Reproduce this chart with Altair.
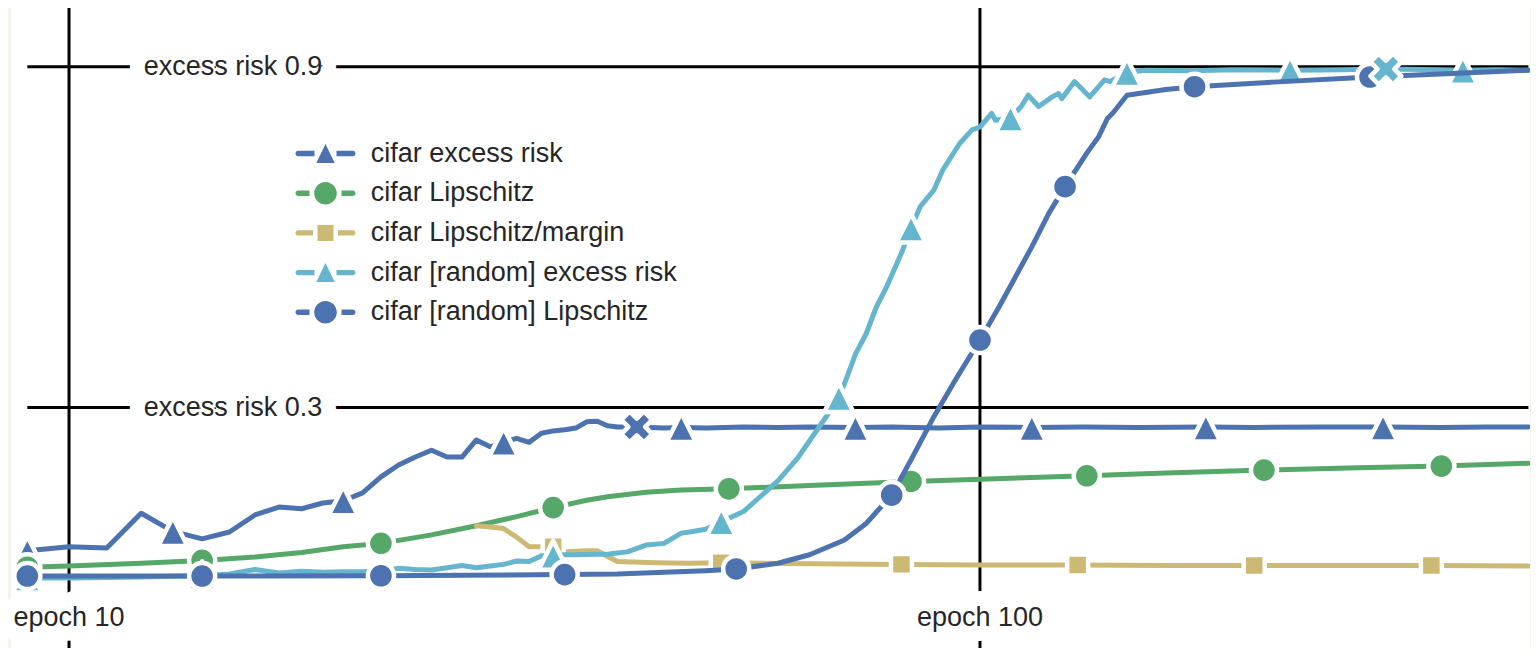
import altair as alt
import pandas as pd

# ---------------- data ----------------
SERIES = ["cifar excess risk", "cifar Lipschitz", "cifar Lipschitz/margin",
          "cifar [random] excess risk", "cifar [random] Lipschitz"]
COLORS = ["#4C72B0", "#55A868", "#CCB974", "#64B5CD", "#4C72B0"]

EXCESS_EPOCH = [9, 10, 11, 12, 13, 14, 15, 16, 17, 18, 19, 20, 21, 22, 23, 24, 25, 26, 27, 28,
                29, 30, 31, 32, 33, 34, 35, 36, 37, 38, 39, 40, 41, 42, 45, 47, 50, 55, 60, 65,
                73, 80, 90, 100, 114, 130, 150, 177, 200, 240, 277, 320, 360, 400]
EXCESS_VALUE = [0.048, 0.055, 0.053, 0.114, 0.082, 0.069, 0.081, 0.111, 0.125, 0.122, 0.132,
                0.136, 0.150, 0.178, 0.199, 0.213, 0.225, 0.213, 0.213, 0.243, 0.231, 0.239,
                0.246, 0.239, 0.255, 0.259, 0.261, 0.264, 0.275, 0.276, 0.268, 0.266, 0.266,
                0.266, 0.264, 0.265, 0.264, 0.266, 0.265, 0.266, 0.265, 0.266, 0.264, 0.266,
                0.265, 0.266, 0.265, 0.266, 0.265, 0.266, 0.266, 0.265, 0.266, 0.266]
EXCESS_MARKS = [9, 13, 20, 30, 47, 73, 114, 177, 277]

LIP_EPOCH = [9, 10, 12, 14, 16, 18, 20, 22, 25, 28, 31, 34, 37, 39, 43, 47, 53, 65, 84, 100,
             131, 160, 205, 260, 321, 400]
LIP_VALUE = [0.019, 0.021, 0.026, 0.031, 0.037, 0.045, 0.055, 0.061, 0.076, 0.092, 0.108,
             0.124, 0.137, 0.143, 0.151, 0.155, 0.157, 0.163, 0.170, 0.174, 0.180, 0.185,
             0.190, 0.194, 0.197, 0.202]
LIP_MARKS = [9, 14, 22, 34, 53, 84, 131, 205, 321]

LM_EPOCH = [28, 29, 30, 31, 32, 33, 34, 35, 36, 37, 38, 39, 40, 44, 48, 52, 65, 82, 100, 128,
            160, 200, 260, 313, 400]
LM_VALUE = [0.092, 0.090, 0.087, 0.072, 0.055, 0.055, 0.055, 0.046, 0.047, 0.048, 0.048,
            0.038, 0.029, 0.027, 0.026, 0.027, 0.025, 0.024, 0.023, 0.023, 0.022, 0.022,
            0.022, 0.022, 0.021]
LM_MARKS = [34, 52, 82, 128, 200, 313]

RER_EPOCH = [9, 10, 11, 12, 13, 14, 15, 16, 17, 18, 19, 20, 21, 22, 23, 24, 25, 26, 27, 28,
             29, 30, 31, 32, 33, 34, 35, 36, 38, 39, 40, 41, 43, 45, 47, 48, 50, 52, 55, 60,
             63, 68, 70, 71, 73, 75, 77, 79, 82, 84, 86, 89, 91, 95, 98, 100, 103, 104, 108,
             111, 113, 116, 120, 122, 123, 127, 132, 137, 139, 145, 152, 170, 190, 219, 250,
             279, 320, 339, 370, 400]
RER_VALUE = [0.000, 0.000, 0.001, 0.002, 0.003, 0.004, 0.007, 0.015, 0.009, 0.012, 0.010,
             0.011, 0.011, 0.013, 0.017, 0.015, 0.014, 0.018, 0.022, 0.018, 0.021, 0.024,
             0.030, 0.029, 0.039, 0.040, 0.041, 0.041, 0.042, 0.042, 0.044, 0.046, 0.058,
             0.061, 0.079, 0.081, 0.086, 0.099, 0.117, 0.171, 0.210, 0.287, 0.318, 0.342,
             0.394, 0.430, 0.478, 0.513, 0.572, 0.616, 0.654, 0.683, 0.718, 0.765, 0.789,
             0.794, 0.818, 0.806, 0.810, 0.830, 0.850, 0.830, 0.847, 0.853, 0.844, 0.874,
             0.847, 0.877, 0.874, 0.890, 0.894, 0.893, 0.895, 0.894, 0.895, 0.896, 0.895,
             0.894, 0.895, 0.894]
RER_MARKS = [9, 14, 22, 34, 52, 70, 84, 108, 145, 219, 339]

RL_EPOCH = [9, 14, 22, 35, 40, 45, 50, 54, 60, 65, 71, 75, 80, 84, 89, 94, 100, 105, 114,
            119, 124, 131, 135, 138, 140, 145, 160, 172, 210, 268, 330, 400]
RL_VALUE = [0.0035, 0.0035, 0.004, 0.006, 0.007, 0.010, 0.013, 0.016, 0.026, 0.041, 0.067,
            0.096, 0.146, 0.208, 0.284, 0.349, 0.419, 0.478, 0.583, 0.642, 0.689, 0.748,
            0.777, 0.809, 0.819, 0.850, 0.860, 0.865, 0.873, 0.882, 0.888, 0.894]
RL_MARKS = [9, 14, 22, 35, 54, 80, 100, 124, 172, 268]

CROSS_SERIES = ["cifar excess risk", "cifar [random] excess risk"]
CROSS_EPOCH = [42, 279]

Y_TICKS = [0.3, 0.9]
X_TICKS = [10, 100]

# ---------------- styling ----------------
FONT = "Liberation Sans"
TEXT = "#262626"
TRI = "M0,-1L-1,1L1,1Z"
XMARK = ("M-1,-0.46L-0.46,-1L0,-0.54L0.46,-1L1,-0.46L0.54,0L1,0.46L0.46,1L0,0.54"
         "L-0.46,1L-1,0.46L-0.54,0Z")


def dashes(gap):
    # two short rounded line pieces either side of the legend marker
    return (f"M-2.73,-0.27L-{gap},-0.27L-{gap},0.27L-2.73,0.27A0.27,0.27,0,0,1,-2.73,-0.27Z"
            f"M{gap},-0.27L2.73,-0.27A0.27,0.27,0,0,1,2.73,0.27L{gap},0.27Z")


LEG_TRI = dashes(1.1) + "M0,-0.95L-0.92,0.95L0.92,0.95Z"
LEG_CIRC = dashes(1.6) + "M-1.13,0A1.13,1.13,0,1,0,1.13,0A1.13,1.13,0,1,0,-1.13,0Z"
LEG_SQ = dashes(1.25) + "M-0.8,-0.8L0.8,-0.8L0.8,0.8L-0.8,0.8Z"
LEG_SHAPES = [LEG_TRI, LEG_CIRC, LEG_SQ, LEG_TRI, LEG_CIRC]
MARK_SHAPE = [TRI, "circle", "square", TRI, "circle"]
MARK_SIZE = [840, 680, 440, 840, 680]
LINE_W = 5

W, H = 1519, 640
xscale = alt.Scale(type="log", domain=[8.636, 401.6], nice=False)
yscale = alt.Scale(domain=[-0.1232, 1.0035], nice=False, zero=False)
X = alt.X("epoch:Q", scale=xscale, axis=None)
Y = alt.Y("value:Q", scale=yscale, axis=None)

series_data = [
    (EXCESS_EPOCH, EXCESS_VALUE, EXCESS_MARKS),
    (LIP_EPOCH, LIP_VALUE, LIP_MARKS),
    (LM_EPOCH, LM_VALUE, LM_MARKS),
    (RER_EPOCH, RER_VALUE, RER_MARKS),
    (RL_EPOCH, RL_VALUE, RL_MARKS),
]

frames = {}
for name, (ep, val, mk) in zip(SERIES, series_data):
    frames[name] = pd.DataFrame({"epoch": ep, "value": val, "series": name})

all_epochs = [e for ep, _, _ in series_data for e in ep]
emin, emax = min(all_epochs), max(all_epochs)

# ---------------- grid with inline labels ----------------
hgrid = pd.DataFrame({"value": Y_TICKS, "x0": emin, "x1": emax,
                      "label": [f"excess risk {v}" for v in Y_TICKS]})
vgrid = pd.DataFrame({"epoch": X_TICKS, "label": [f"epoch {v}" for v in X_TICKS]})

hrules = alt.Chart(hgrid).mark_rule(color="black", strokeWidth=3).encode(
    x=alt.X("x0:Q", scale=xscale, axis=None), x2="x1:Q", y=Y)
vrules = alt.Chart(vgrid).mark_rule(color="black", strokeWidth=3).encode(
    x=X)

txt_common = dict(font=FONT, fontSize=27, align="center", baseline="middle")
hhalo = alt.Chart(hgrid).mark_text(fill="white", stroke="white", strokeWidth=30,
                                   strokeJoin="round", **txt_common).encode(
    x=alt.value(222), y=Y, text="label:N")
htext = alt.Chart(hgrid).mark_text(fill=TEXT, **txt_common).encode(
    x=alt.value(222), y=Y, text="label:N")
vhalo = alt.Chart(vgrid).mark_text(fill="white", stroke="white", strokeWidth=30,
                                   strokeJoin="round", **txt_common).encode(
    x=X, y=alt.value(610), text="label:N")
vtext = alt.Chart(vgrid).mark_text(fill=TEXT, **txt_common).encode(
    x=X, y=alt.value(610), text="label:N")

layers = [hrules, vrules, hhalo, vhalo, htext, vtext]

# ---------------- series: line then markers ----------------
for i, name in enumerate(SERIES):
    df = frames[name]
    marks = series_data[i][2]
    line = alt.Chart(df).mark_line(color=COLORS[i], strokeWidth=LINE_W, strokeCap="round",
                                   strokeJoin="round", clip=True).encode(x=X, y=Y, order="epoch:Q")
    pts = alt.Chart(df[df["epoch"].isin(marks)]).mark_point(
        shape=MARK_SHAPE[i], size=MARK_SIZE[i], filled=True, fill=COLORS[i],
        stroke="white", strokeWidth=4.5, strokeJoin="round", opacity=1, clip=True
    ).encode(x=X, y=Y)
    layers += [line, pts]

# ---------------- X markers ----------------
for name in CROSS_SERIES:
    i = SERIES.index(name)
    df = frames[name]
    ep = CROSS_EPOCH[CROSS_SERIES.index(name)]
    cx = alt.Chart(df[df["epoch"] == ep]).mark_point(
        shape=XMARK, size=960, filled=True, fill=COLORS[i], stroke="white",
        strokeWidth=4.5, strokeJoin="round", opacity=1, clip=True).encode(x=X, y=Y)
    layers.append(cx)

# ---------------- legend (invisible carrier layer) ----------------
legdf = pd.concat([frames[n].iloc[[0]] for n in SERIES])
legend = alt.Legend(title=None, orient="none", legendX=301, legendY=132,
                    labelFont=FONT, labelFontSize=27, labelColor=TEXT, labelLimit=600,
                    symbolSize=400, symbolStrokeWidth=0, symbolOpacity=1,
                    rowPadding=11.7, labelOffset=31.7, padding=0)
leg = alt.Chart(legdf).mark_point(filled=True, opacity=0).encode(
    x=X, y=Y,
    color=alt.Color("series:N", scale=alt.Scale(domain=SERIES, range=COLORS),
                    sort=SERIES, legend=legend),
    shape=alt.Shape("series:N", scale=alt.Scale(domain=SERIES, range=LEG_SHAPES),
                    sort=SERIES, legend=legend),
)
layers.append(leg)

chart = alt.layer(*layers).properties(
    width=W, height=H,
    autosize=alt.AutoSizeParams(type="none"),
    padding={"left": 3, "top": 0, "right": 1, "bottom": 0},
    background="#f4f5ec",
    view=alt.ViewBackground(fill="white", strokeWidth=0),
).configure(font=FONT).configure_view(fill="white", strokeWidth=0)

chart.save("out.html", embed_options={"renderer": "svg", "actions": False})
